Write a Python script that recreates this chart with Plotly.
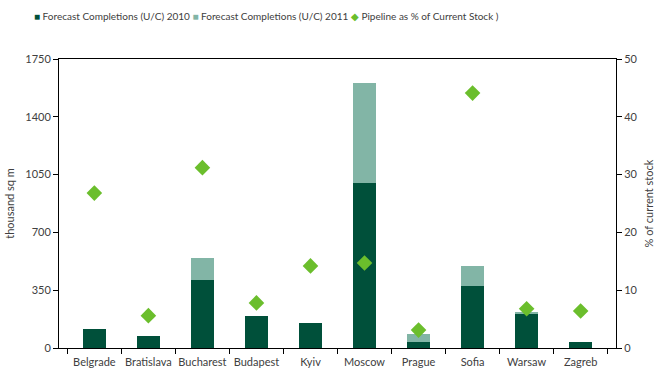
import plotly.graph_objects as go

cities = ["Belgrade", "Bratislava", "Bucharest", "Budapest", "Kyiv",
          "Moscow", "Prague", "Sofia", "Warsaw", "Zagreb"]
completions_2010 = [115, 73, 412, 194, 152, 1000, 36, 376, 206, 36]
completions_2011 = [0, 0, 133, 0, 0, 605, 49, 121, 12, 0]
pipeline_pct = [26.8, 5.6, 31.2, 7.8, 14.2, 14.7, 3.1, 44.1, 6.8, 6.4]

series_names = ["Forecast Completions (U/C) 2010",
                "Forecast Completions (U/C) 2011",
                "Pipeline as % of Current Stock )"]

FONT = "Lato"
TXT = "#404040"
DARK = "#00503A"
LIGHT = "#82B5A6"
LIME = "#6BBE2C"

W, H = 670, 371
M = dict(l=59, r=54, t=59, b=23)
PW = W - M["l"] - M["r"]
PH = H - M["t"] - M["b"]

fig = go.Figure()
fig.add_trace(go.Bar(x=cities, y=completions_2010, name=series_names[0],
                     marker=dict(color=DARK, line=dict(width=0))))
fig.add_trace(go.Bar(x=cities, y=completions_2011, name=series_names[1],
                     marker=dict(color=LIGHT, line=dict(width=0))))
fig.add_trace(go.Scatter(x=cities, y=pipeline_pct, name=series_names[2],
                         mode="markers", yaxis="y2",
                         marker=dict(symbol="diamond", size=12, color=LIME)))

# Compact legend row across the top, written as one line of text
glyphs = [("■", DARK), ("■", LIGHT), ("◆", LIME)]
legend_text = " ".join(
    f"<span style='color:{c}'>{g}</span> {n}" for (g, c), n in zip(glyphs, series_names)
)
fig.add_annotation(xref="paper", yref="paper",
                   x=(32 - M["l"]) / PW, y=(H - M["b"] - 16) / PH,
                   xanchor="left", yanchor="middle", showarrow=False,
                   text=legend_text, font=dict(family=FONT, size=10, color=TXT))

fig.update_layout(
    width=W, height=H,
    margin=M,
    barmode="stack", bargap=0.58,
    plot_bgcolor="white", paper_bgcolor="white",
    font=dict(family=FONT, size=11, color=TXT),
    showlegend=False,
    xaxis=dict(showline=True, linecolor="black", linewidth=1, mirror=True,
               ticks="outside", tickson="boundaries", ticklen=5, tickcolor="black",
               showgrid=False, tickangle=0, ticklabelstandoff=4, automargin=False,
               tickfont=dict(size=11, color=TXT)),
    yaxis=dict(range=[0, 1750], tickvals=[0, 350, 700, 1050, 1400, 1750],
               showline=True, linecolor="black", linewidth=1, automargin=False,
               ticks="outside", ticklen=5, tickcolor="black", showgrid=False,
               zeroline=False,
               title=dict(text="thousand sq m", font=dict(size=11, color=TXT), standoff=8)),
    yaxis2=dict(range=[0, 50], tickvals=[0, 10, 20, 30, 40, 50], overlaying="y", side="right",
                showline=True, linecolor="black", linewidth=1, automargin=False,
                ticks="outside", ticklen=5, tickcolor="black", showgrid=False,
                zeroline=False,
                title=dict(text="% of current stock", font=dict(size=11, color=TXT), standoff=8)),
)

fig.write_html("out.html")
